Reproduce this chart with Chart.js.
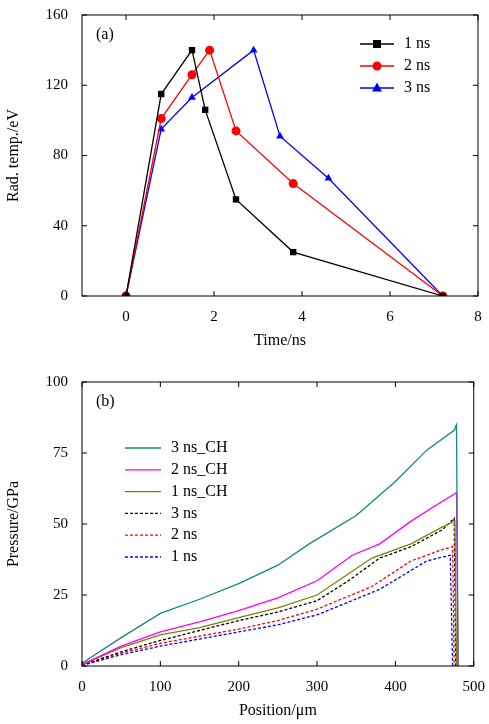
<!DOCTYPE html>
<html><head><meta charset="utf-8">
<script src="https://cdn.jsdelivr.net/npm/chart.js@4"></script>
<style>
body{margin:0;background:#fff;width:489px;height:724px;position:relative;overflow:hidden}
.box{position:absolute;left:0;width:489px}
</style></head><body>
<div class="box" style="top:0;height:354px"><canvas id="c1"></canvas></div>
<div class="box" style="top:362px;height:362px"><canvas id="c2"></canvas></div>
<script>
const FONT = "'Liberation Serif', serif";
// panel (a): radiation temperature
const timeTicks = [0,2,4,6,8];
const t1 = [[0,0],[0.8,115],[1.5,140],[1.8,106],[2.5,55],[3.8,25],[7.2,0]];
const t2 = [[0,0],[0.8,101],[1.5,126],[1.9,140],[2.5,94],[3.8,64],[7.2,0]];
const t3 = [[0,0],[0.8,95],[1.5,113],[2.9,140],[3.5,91],[4.6,67],[7.2,0]];
// panel (b): pressure vs position
const ch3 = [[0,1],[50,10],[100,18.5],[150,23.5],[200,29],[250,35.5],[290,43],[350,53],[400,65],[440,76],[475,83],[478,85],[480,0]];
const ch2 = [[0,0.5],[50,7],[100,12],[150,15.5],[200,19.5],[250,24],[300,30],[345,39],[380,43],[420,51],[460,58],[478,61],[480,0]];
const ch1 = [[0,0.5],[50,6.5],[100,11],[150,13.5],[200,17],[250,20.5],[300,25],[370,38],[420,43],[460,49],[476,51],[478,0]];
const n3 = [[0,0.3],[50,5],[100,9],[150,12.5],[200,16],[250,19],[300,23],[340,30],[380,38],[420,42],[460,48],[475,52],[477,0]];
const n2 = [[0,0.3],[50,4.5],[100,8],[150,10.5],[200,13],[250,16],[300,20],[370,28],[420,37],[460,41],[473,42],[475,0]];
const n1 = [[0,0.2],[50,4],[100,7],[150,9.5],[200,12],[250,14.5],[300,18],[380,27],[440,37],[470,39],[473,0]];

const pts = a => a.map(p => ({x:p[0], y:p[1]}));

const frame = {
  id:'frame',
  afterDraw(ch, args, o){
    const {ctx, chartArea:a, scales} = ch;
    ctx.save();
    ctx.strokeStyle='#000'; ctx.lineWidth=1;
    ctx.strokeRect(a.left, a.top, a.right-a.left, a.bottom-a.top);
    ctx.beginPath();
    const xs = scales.x, ys = scales.y;
    xs.ticks.forEach(t=>{const x=xs.getPixelForValue(t.value);
      ctx.moveTo(x,a.bottom);ctx.lineTo(x,a.bottom-5);ctx.moveTo(x,a.top);ctx.lineTo(x,a.top+5);});
    ys.ticks.forEach(t=>{const y=ys.getPixelForValue(t.value);
      ctx.moveTo(a.left,y);ctx.lineTo(a.left+5,y);ctx.moveTo(a.right,y);ctx.lineTo(a.right-5,y);});
    ctx.stroke();
    ctx.fillStyle='#000'; ctx.font='16px '+FONT; ctx.textBaseline='middle';
    ctx.fillText(o.label, a.left+14, a.top+20);
    // legend
    ch.data.datasets.forEach((d,i)=>{
      const y=o.ly+i*o.dy;
      ctx.strokeStyle=d.borderColor; ctx.lineWidth=d.borderWidth||1.3;
      ctx.setLineDash(d.borderDash||[]);
      ctx.beginPath();ctx.moveTo(o.lx,y);ctx.lineTo(o.lx+o.lw,y);ctx.stroke();
      ctx.setLineDash([]);
      if(d.pointRadius){
        ctx.fillStyle=d.backgroundColor; const cx=o.lx+o.lw/2, r=4.5;
        ctx.beginPath();
        if(d.pointStyle==='rect') ctx.rect(cx-r+0.5,y-r+0.5,2*r-1,2*r-1);
        else if(d.pointStyle==='triangle'){ctx.moveTo(cx,y-r-1);ctx.lineTo(cx+r+0.5,y+r-1);ctx.lineTo(cx-r-0.5,y+r-1);ctx.closePath();}
        else ctx.arc(cx,y,r,0,Math.PI*2);
        ctx.fill();
      }
      ctx.fillStyle='#000'; ctx.fillText(d.label, o.lx+o.lw+10, y);
    });
    ctx.restore();
  }
};

function opts(xmin,xmax,xstep,ymin,ymax,ystep,xt,yt,top,bottomH,fr,xticks){
  return {
    responsive:true, maintainAspectRatio:false, animation:false,
    layout:{padding:{top:top,right:11,left:0,bottom:0}},
    plugins:{legend:{display:false}, tooltip:{enabled:false}, frame:fr},
    scales:{
      x:{type:'linear',min:xmin,max:xmax,ticks:{stepSize:xstep,color:'#000',font:{family:FONT,size:15},padding:4},
         grid:{display:false},border:{display:false},
         title:{display:true,text:xt,color:'#000',font:{family:FONT,size:16},padding:{top:2}},
         afterBuildTicks(s){ if(xticks) s.ticks = xticks.map(v=>({value:v})); },
         afterFit(s){s.height=bottomH;}},
      y:{min:ymin,max:ymax,ticks:{stepSize:ystep,color:'#000',font:{family:FONT,size:15},padding:6},
         grid:{display:false},border:{display:false},
         title:{display:true,text:yt,color:'#000',font:{family:FONT,size:16}},
         afterFit(s){s.width=82;}}
    }
  };
}

const mk = (label,data,color,style) => ({label,data:pts(data),borderColor:color,backgroundColor:color,
  borderWidth:1.3,pointStyle:style,pointRadius:4.5,pointBorderWidth:0,showLine:true,tension:0});

new Chart(document.getElementById('c1'),{
  type:'scatter',
  data:{datasets:[mk('1 ns',t1,'#000','rect'),mk('2 ns',t2,'#f00','circle'),mk('3 ns',t3,'#00f','triangle')]},
  options:opts(-1,8,2,0,160,40,'Time/ns','Rad. temp./eV',12,58,{label:'(a)',lx:360,ly:44,dy:22,lw:34},timeTicks),
  plugins:[frame]
});

const ln = (label,data,color,dash) => ({label,data:pts(data),borderColor:color,borderWidth:1.3,
  borderDash:dash,pointRadius:0,showLine:true,tension:0});
new Chart(document.getElementById('c2'),{
  type:'scatter',
  data:{datasets:[ln('3 ns_CH',ch3,'#0f8a80'),ln('2 ns_CH',ch2,'#ff00ff'),ln('1 ns_CH',ch1,'#808000'),
    ln('3 ns',n3,'#000',[3,2]),ln('2 ns',n2,'#f00',[3,2]),ln('1 ns',n1,'#00f',[3,2])]},
  options:opts(0,500,100,0,100,25,'Position/\u03bcm','Pressure/GPa',20,58,{label:'(b)',lx:125,ly:86,dy:21.8,lw:36}),
  plugins:[frame]
});
</script></body></html>
